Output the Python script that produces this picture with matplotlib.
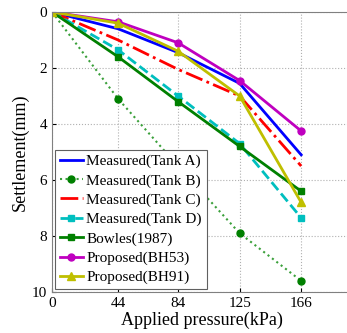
import matplotlib.pyplot as plt

plt.rcParams['font.family'] = ['Liberation Serif', 'DejaVu Serif']

pressure = [0, 44, 84, 125, 166]
tank_a = [0, 0.6, 1.45, 2.55, 5.1]
tank_b = [0, 3.1, 5.5, 7.9, 9.6]
tank_c = [0, 1.0, 2.05, 3.0, 5.5]
tank_d = [0, 1.35, 3.0, 4.7, 7.35]
bowles = [0, 1.6, 3.2, 4.8, 6.4]
bh53 = [0, 0.35, 1.1, 2.45, 4.25]
bh91 = [0, 0.4, 1.4, 3.0, 6.8]

fig = plt.figure(figsize=(3.47, 3.33), dpi=100)
ax = fig.add_axes([0.150, 0.123, 0.865, 0.841])

ax.plot(pressure, tank_a, '-', color='#0000ff', lw=2, label='Measured(Tank A)')
ax.plot(pressure, tank_b, ':', color='#3aa03a', lw=1.5, marker='o', ms=5,
        mfc='#008000', mec='#008000', label='Measured(Tank B)')
ax.plot(pressure, tank_c, '-.', color='#ff0000', lw=2, label='Measured(Tank C)')
ax.plot(pressure, tank_d, '--', color='#00bfbf', lw=2, marker='s', ms=5,
        label='Measured(Tank D)')
ax.plot(pressure, bowles, '-', color='#008000', lw=2, marker='s', ms=5,
        label='Bowles(1987)')
ax.plot(pressure, bh53, '-', color='#bf00bf', lw=2, marker='o', ms=5,
        label='Proposed(BH53)')
ax.plot(pressure, bh91, '-', color='#bfbf00', lw=2, marker='^', ms=6,
        label='Proposed(BH91)')

ax.set_xlim(0, 200)
ax.set_ylim(10, 0)
ax.set_xticks(pressure)
ax.set_yticks([0, 2, 4, 6, 8, 10])
ax.tick_params(direction='in', labelsize=11, length=3)
ax.grid(True, linestyle=':', color='#b0b0b0', lw=0.8)
for s in ax.spines.values():
    s.set_color('#808080')

ax.set_xlabel('Applied pressure(kPa)', fontsize=13, labelpad=1)
ax.set_ylabel('Settlement(mm)', fontsize=13, labelpad=2)

leg = ax.legend(loc='lower left', fontsize=11, fancybox=False, framealpha=1,
                edgecolor='#606060', handlelength=1.5, handletextpad=0.25,
                borderpad=0.3, labelspacing=0.36, borderaxespad=0.2)
leg.get_frame().set_linewidth(0.8)

fig.savefig('out.png', dpi=100)
